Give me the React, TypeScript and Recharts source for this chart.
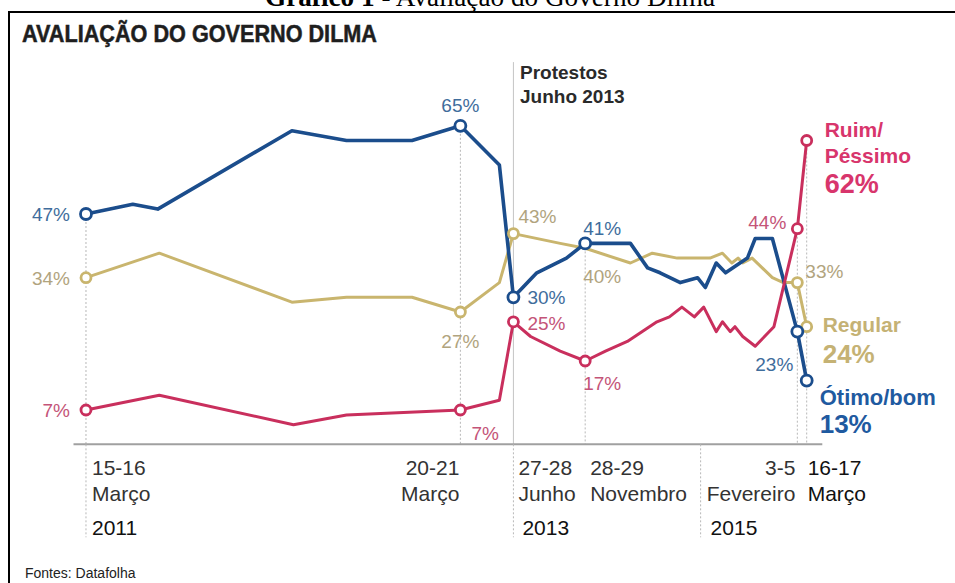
import React from 'react'
import { LineChart, Line, XAxis, YAxis, ReferenceLine } from 'recharts'

// posição horizontal = meses desde a pesquisa de 15-16 de março de 2011
const otimoBomT = [0, 3.0, 4.6, 13.2, 16.7, 20.9, 24.0, 26.5, 27.4, 28.9, 30.8, 32.0, 34.9, 36.0, 36.8, 38.1, 39.2, 39.7, 40.4, 41.0, 42.4, 42.9, 44.0, 45.6, 46.2]
const otimoBomV = [47, 49, 48, 64, 62, 62, 65, 57, 30, 35, 38, 41, 41, 36, 35, 33, 34, 32, 37, 35, 38, 42, 42, 23, 13]

const ruimT = [0, 4.7, 13.3, 16.7, 24.0, 26.5, 27.4, 28.5, 30.4, 32.0, 33.3, 34.7, 36.6, 37.4, 38.2, 39.0, 39.6, 40.4, 40.8, 41.3, 41.6, 42.1, 42.9, 44.1, 45.6, 46.2]
const ruimV = [7, 10, 4, 6, 7, 9, 25, 22, 19, 17, 19, 21, 25, 26, 28, 26, 28, 23, 25, 23, 24, 22, 20, 24, 44, 62]

const regularT = [0, 4.7, 13.2, 16.7, 20.9, 24.0, 26.5, 27.4, 30.4, 32.0, 34.9, 36.3, 37.9, 40.0, 40.8, 41.4, 41.8, 42.1, 42.7, 44.0, 44.7, 45.6, 46.2]
const regularV = [34, 39, 29, 30, 30, 27, 33, 43, 41, 40, 37, 39, 38, 38, 39, 37, 38, 37, 38, 34, 33, 33, 24]

// pesquisas marcadas com círculo e valor
const markerT = [0, 24.0, 27.4, 32.0, 45.6, 46.2]

const tickT = [0, 24.0, 27.4, 32.0, 45.6, 46.2]
const tickDays = ['15-16', '20-21', '27-28', '28-29', '3-5', '16-17']
const tickMonths = ['Março', 'Março', 'Junho', 'Novembro', 'Fevereiro', 'Março']
const yearT = [0, 27.4, 39.4]
const yearLabels = ['2011', '2013', '2015']
const protestT = 27.4

const otimoNames = ['Ótimo/bom']
const ruimNames = ['Ruim/', 'Péssimo']
const regularNames = ['Regular']

const SANS = '"Liberation Sans", Arial, sans-serif'
const Y_MAX = 78

const toData = (ts: number[], vs: number[]) => ts.map((t, i) => ({ t, v: vs[i] }))
const otimoData = toData(otimoBomT, otimoBomV)
const ruimData = toData(ruimT, ruimV)
const regularData = toData(regularT, regularV)

type Place = [string, number, number]

interface SeriesStyle {
  line: string
  label: string
  end: string
  width: number
  r: number
  places: Place[]
  names: string[]
  endDx: number
  nameDy: number[]
  nameSize: number
  valueDy: number
  valueSize: number
  noDot: number[]
}

const otimoStyle: SeriesStyle = {
  line: '#1b4d8c',
  label: '#3f6d9c',
  end: '#1f5aa0',
  width: 3.6,
  r: 5.5,
  places: [['end', -16, 7], ['middle', 0, -14], ['start', 14, 7], ['start', -2, -8], ['end', -4, 39]],
  names: otimoNames,
  endDx: 13,
  nameDy: [24],
  nameSize: 22,
  valueDy: 52,
  valueSize: 26,
  noDot: [],
}

const ruimStyle: SeriesStyle = {
  line: '#c92f5d',
  label: '#c45478',
  end: '#d8356c',
  width: 3,
  r: 5,
  places: [['end', -16, 7], ['start', 11, 30], ['start', 14, 8], ['start', -2, 29], ['end', -11, 0]],
  names: ruimNames,
  endDx: 18,
  nameDy: [-3.5, 22.5],
  nameSize: 21,
  valueDy: 52.5,
  valueSize: 27,
  noDot: [],
}

const regularStyle: SeriesStyle = {
  line: '#c9b56e',
  label: '#b1a47e',
  end: '#c5b274',
  width: 3,
  r: 5,
  places: [['end', -16, 7], ['middle', 0, 36], ['start', 5, -11], ['start', -2, 35], ['start', 8, -5]],
  names: regularNames,
  endDx: 16,
  nameDy: [5],
  nameSize: 21,
  valueDy: 36,
  valueSize: 26,
  noDot: [32.0],
}

const makeDot = (s: SeriesStyle) => (props: any) => {
  const { cx, cy, index, payload } = props
  const k = markerT.indexOf(payload.t)
  if (k < 0 || cx == null || cy == null) return <g key={`n${index}`} />
  const last = k === markerT.length - 1
  const circle = s.noDot.includes(payload.t) ? null : (
    <circle cx={cx} cy={cy} r={s.r} fill="#fff" stroke={s.line} strokeWidth={2.8} />
  )
  if (last) {
    return (
      <g key={`d${index}`}>
        {circle}
        {s.names.map((n, j) => (
          <text key={n} x={cx + s.endDx} y={cy + s.nameDy[j]} fontFamily={SANS} fontSize={s.nameSize} fontWeight="bold" fill={s.end}>
            {n}
          </text>
        ))}
        <text x={cx + s.endDx} y={cy + s.valueDy} fontFamily={SANS} fontSize={s.valueSize} fontWeight="bold" fill={s.end}>
          {`${payload.v}%`}
        </text>
      </g>
    )
  }
  const [anchor, dx, dy] = s.places[k]
  return (
    <g key={`d${index}`}>
      {circle}
      <text x={cx + dx} y={cy + dy} textAnchor={anchor as any} fontFamily={SANS} fontSize={19} fill={s.label}>
        {`${payload.v}%`}
      </text>
    </g>
  )
}

const tickAnchor = ['start', 'end', 'start', 'start', 'end', 'start']
const tickDx = [6, -1, 5, 5, -2, 1]
const yearDx = [6, 9, 10]

const AxisTick = (props: any) => {
  const { x, y, payload } = props
  const i = tickT.indexOf(payload.value)
  const yi = yearT.indexOf(payload.value)
  const dark = i === tickT.length - 1
  return (
    <g>
      {yi >= 0 && <line x1={x} x2={x} y1={y} y2={y + 93} stroke="#b8b8b8" strokeWidth={1} strokeDasharray="2 2" />}
      {i >= 0 && (
        <text x={x + tickDx[i]} y={y + 31} textAnchor={tickAnchor[i] as any} fontFamily={SANS} fontSize={21} fill={dark ? '#111' : '#333'}>
          {tickDays[i]}
        </text>
      )}
      {i >= 0 && (
        <text x={x + tickDx[i]} y={y + 57} textAnchor={tickAnchor[i] as any} fontFamily={SANS} fontSize={21} fill={dark ? '#111' : '#333'}>
          {tickMonths[i]}
        </text>
      )}
      {yi >= 0 && (
        <text x={x + yearDx[yi]} y={y + 91} fontFamily={SANS} fontSize={21} fill="#111">
          {yearLabels[yi]}
        </text>
      )}
    </g>
  )
}

const allTicks = Array.from(new Set([...tickT, ...yearT])).sort((a, b) => a - b)

const valueAt = (ts: number[], vs: number[], t: number) => {
  const i = ts.indexOf(t)
  return i >= 0 ? vs[i] : 0
}

const guideTops = tickT.map(t =>
  t === protestT
    ? Y_MAX
    : Math.max(valueAt(otimoBomT, otimoBomV, t), valueAt(ruimT, ruimV, t), valueAt(regularT, regularV, t))
)

export default function App() {
  return (
    <div style={{ position: 'absolute', left: 0, top: 0, width: 955, height: 583, background: '#fff', overflow: 'hidden' }}>
      <div style={{ position: 'absolute', left: 0, top: 0 }}>
        <LineChart
          width={955}
          height={583}
          margin={{ top: 444.3 - Y_MAX * 4.9, right: 132.7, bottom: 38.7, left: 73.5 }}
        >
          <XAxis
            type="number"
            dataKey="t"
            domain={[-0.8, 47.2]}
            ticks={allTicks}
            interval={0}
            tick={<AxisTick />}
            tickLine={false}
            tickSize={0}
            tickMargin={0}
            height={100}
            axisLine={{ stroke: '#a0a0a0', strokeWidth: 2 }}
          />
          <YAxis type="number" dataKey="v" domain={[0, Y_MAX]} hide />
          {tickT.map((t, i) => (
            <ReferenceLine
              key={`g${t}`}
              segment={[{ x: t, y: guideTops[i] }, { x: t, y: 0 }]}
              stroke={t === protestT ? '#c4c4c4' : '#b8b8b8'}
              strokeWidth={1}
              strokeDasharray={t === protestT ? undefined : '2 2'}
            />
          ))}
          <Line
            data={regularData}
            dataKey="v"
            type="linear"
            stroke={regularStyle.line}
            strokeWidth={regularStyle.width}
            strokeLinejoin="round"
            dot={makeDot(regularStyle)}
            activeDot={false}
            isAnimationActive={false}
          />
          <Line
            data={otimoData}
            dataKey="v"
            type="linear"
            stroke={otimoStyle.line}
            strokeWidth={otimoStyle.width}
            strokeLinejoin="round"
            dot={makeDot(otimoStyle)}
            activeDot={false}
            isAnimationActive={false}
          />
          <Line
            data={ruimData}
            dataKey="v"
            type="linear"
            stroke={ruimStyle.line}
            strokeWidth={ruimStyle.width}
            strokeLinejoin="round"
            dot={makeDot(ruimStyle)}
            activeDot={false}
            isAnimationActive={false}
          />
        </LineChart>
      </div>
      <svg width={955} height={583} style={{ position: 'absolute', left: 0, top: 0, pointerEvents: 'none' }}>
        <text x={265} y={5.5} textLength={450} lengthAdjust="spacingAndGlyphs" fontFamily='"Liberation Serif", serif' fontSize={27} fill="#000">
          <tspan fontWeight="bold">Gráfico 1</tspan>
          {' - Avaliação do Governo Dilma'}
        </text>
        <line x1={8} x2={955} y1={12} y2={12} stroke="#000" strokeWidth={2.2} />
        <line x1={9} x2={9} y1={11} y2={583} stroke="#000" strokeWidth={2} />
        <text x={22} y={42} textLength={355} lengthAdjust="spacingAndGlyphs" fontFamily={SANS} fontSize={23} fontWeight="bold" fill="#1e1e1e" stroke="#1e1e1e" strokeWidth={0.5}>
          AVALIAÇÃO DO GOVERNO DILMA
        </text>
        <text x={520} y={79} fontFamily={SANS} fontSize={19} fontWeight="bold" fill="#2a2a2a">Protestos</text>
        <text x={520} y={103} fontFamily={SANS} fontSize={19} fontWeight="bold" fill="#2a2a2a">Junho 2013</text>
        <text x={25} y={578} fontFamily={SANS} fontSize={14} fill="#222">Fontes: Datafolha</text>
      </svg>
    </div>
  )
}
